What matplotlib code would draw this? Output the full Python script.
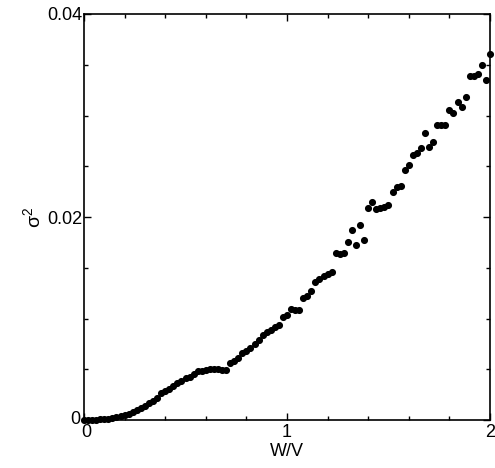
import matplotlib
matplotlib.use("Agg")
import matplotlib.pyplot as plt
from matplotlib.ticker import MultipleLocator
from matplotlib.transforms import ScaledTranslation

plt.rcParams['font.family'] = ['Liberation Sans', 'DejaVu Sans']
plt.rcParams['mathtext.fontset'] = 'custom'
plt.rcParams['mathtext.rm'] = 'Liberation Sans'
plt.rcParams['mathtext.it'] = 'Liberation Sans'

w_over_v = [0.00, 0.02, 0.04, 0.06, 0.08, 0.10, 0.12, 0.14, 0.16, 0.18,
            0.20, 0.22, 0.24, 0.26, 0.28, 0.30, 0.32, 0.34, 0.36, 0.38,
            0.40, 0.42, 0.44, 0.46, 0.48, 0.50, 0.52, 0.54, 0.56, 0.58,
            0.60, 0.62, 0.64, 0.66, 0.68, 0.70, 0.72, 0.74, 0.76, 0.78,
            0.80, 0.82, 0.84, 0.86, 0.88, 0.90, 0.92, 0.94, 0.96, 0.98,
            1.00, 1.02, 1.04, 1.06, 1.08, 1.10, 1.12, 1.14, 1.16, 1.18,
            1.20, 1.22, 1.24, 1.26, 1.28, 1.30, 1.32, 1.34, 1.36, 1.38,
            1.40, 1.42, 1.44, 1.46, 1.48, 1.50, 1.52, 1.54, 1.56, 1.58,
            1.60, 1.62, 1.64, 1.66, 1.68, 1.70, 1.72, 1.74, 1.76, 1.78,
            1.80, 1.82, 1.84, 1.86, 1.88, 1.90, 1.92, 1.94, 1.96, 1.98,
            2.00]
sigma2 = [0.00000, 0.00000, 0.00001, 0.00003, 0.00005, 0.00008, 0.00012, 0.00018, 0.00026, 0.00036,
          0.00048, 0.00062, 0.00078, 0.00096, 0.00116, 0.00140, 0.00165, 0.00192, 0.00220, 0.00262,
          0.00288, 0.00310, 0.00335, 0.00360, 0.00385, 0.00410, 0.00428, 0.00455, 0.00478, 0.00485,
          0.00490, 0.00500, 0.00505, 0.00500, 0.00495, 0.00490, 0.00560, 0.00580, 0.00610, 0.00660,
          0.00680, 0.00710, 0.00750, 0.00790, 0.00840, 0.00870, 0.00890, 0.00920, 0.00935, 0.01010,
          0.01030, 0.01090, 0.01085, 0.01080, 0.01200, 0.01220, 0.01270, 0.01360, 0.01385, 0.01420,
          0.01440, 0.01455, 0.01650, 0.01635, 0.01650, 0.01750, 0.01870, 0.01725, 0.01920, 0.01775,
          0.02085, 0.02150, 0.02080, 0.02090, 0.02100, 0.02120, 0.02250, 0.02300, 0.02310, 0.02460,
          0.02510, 0.02610, 0.02630, 0.02680, 0.02830, 0.02690, 0.02740, 0.02905, 0.02905, 0.02910,
          0.03050, 0.03020, 0.03130, 0.03080, 0.03180, 0.03390, 0.03390, 0.03410, 0.03500, 0.03350,
          0.03610]

x_ticks = [0, 1, 2]
x_ticklabels = ['0', '1', '2']
y_ticks = [0, 0.02, 0.04]
y_ticklabels = ['0', '0.02', '0.04']

fig = plt.figure(figsize=(4.95, 4.68), dpi=100)
ax = fig.add_axes([84/495, 48/468, 406/495, 406/468])

ax.plot(w_over_v, sigma2, linestyle='none', marker='o', markersize=4.1,
        color='black', clip_on=False)

ax.set_xlim(0, 2)
ax.set_ylim(0, 0.04)
ax.set_xticks(x_ticks)
ax.set_xticklabels(x_ticklabels)
ax.set_yticks(y_ticks)
ax.set_yticklabels(y_ticklabels)
ax.xaxis.set_minor_locator(MultipleLocator(0.2))
ax.yaxis.set_minor_locator(MultipleLocator(0.005))

ax.tick_params(which='both', direction='in', top=True, right=True,
               labelsize=13, width=1.0, color='black')
ax.tick_params(which='major', length=5, pad=3)
ax.tick_params(which='minor', length=3)
ax.tick_params(axis='y', which='major', pad=1.5)

# nudge the corner labels apart slightly
ylab0 = ax.get_yticklabels()[0]
ylab0.set_transform(ylab0.get_transform() + ScaledTranslation(-1/72, 2/72, fig.dpi_scale_trans))
xlab0 = ax.get_xticklabels()[0]
xlab0.set_transform(xlab0.get_transform() + ScaledTranslation(1.5/72, 0, fig.dpi_scale_trans))

for s in ax.spines.values():
    s.set_linewidth(1.2)

ax.set_xlabel('W/V', fontsize=13, labelpad=1)
ax.set_ylabel(r'$\sigma^2$', fontsize=14, labelpad=2)

fig.savefig('out.png', dpi=100)
